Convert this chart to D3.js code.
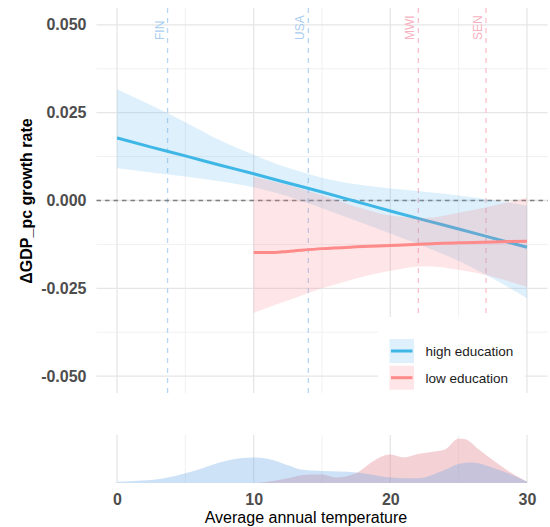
<!DOCTYPE html>
<html>
<head>
<meta charset="utf-8">
<script src="https://cdn.jsdelivr.net/npm/d3@7"></script>
<style>
  html, body { margin: 0; padding: 0; background: #ffffff; }
  svg { display: block; font-family: "Liberation Sans", Arial, Helvetica, sans-serif; }
</style>
</head>
<body>
<svg id="chart" width="550" height="527"></svg>
<script>
// Fitted marginal effect of temperature, high-education group
const tempHigh  = [0, 2.5, 5, 7.5, 10, 12.5, 15, 17.5, 20, 22.5, 25, 27.5, 30];
const fitHigh   = [0.0178, 0.0152, 0.0127, 0.0101, 0.0076, 0.0050, 0.0024, -0.0003, -0.0030, -0.0056, -0.0081, -0.0107, -0.0133];
const upperHigh = [0.0317, 0.0271, 0.0223, 0.0172, 0.0130, 0.0093, 0.0065, 0.0046, 0.0034, 0.0025, 0.0014, 0.0001, -0.0014];
const lowerHigh = [0.0092, 0.0080, 0.0068, 0.0055, 0.0038, 0.0012, -0.0022, -0.0058, -0.0094, -0.0131, -0.0172, -0.0222, -0.0278];

// Fitted marginal effect of temperature, low-education group
const tempLow  = [10, 11.5, 12.5, 15, 17.5, 20, 22.5, 25, 27.5, 30];
const fitLow   = [-0.0148, -0.0148, -0.0145, -0.0137, -0.0132, -0.0128, -0.0124, -0.0120, -0.0118, -0.0116];
const upperLow = [0.0068, 0.0054, 0.0044, 0.0015, -0.0018, -0.0043, -0.0050, -0.0035, -0.0015, 0.0008];
const lowerLow = [-0.0320, -0.0298, -0.0285, -0.0250, -0.0222, -0.0200, -0.0187, -0.0197, -0.0217, -0.0246];

// Temperature distribution of country-years in each group
const densTempHigh = [0, 1.25, 2.5, 3.75, 5, 6.25, 7.5, 9, 10, 11, 12.5, 13.6, 15, 17.5, 20, 22, 24, 25, 26, 27.5, 30];
const densHigh     = [0.003, 0.005, 0.007, 0.013, 0.023, 0.035, 0.048, 0.058, 0.060, 0.057, 0.042, 0.031, 0.028, 0.025, 0.013, 0.011, 0.031, 0.045, 0.048, 0.036, 0.003];
const densTempLow  = [10, 11, 12.5, 13.6, 15, 16, 17.5, 18.5, 19.5, 20, 21, 22, 23, 24, 25, 25.5, 26.5, 27.5, 28.5, 30];
const densLow      = [0.000, 0.003, 0.011, 0.019, 0.020, 0.013, 0.023, 0.046, 0.064, 0.067, 0.060, 0.068, 0.073, 0.079, 0.105, 0.103, 0.078, 0.054, 0.031, 0.003];

// Reference countries and their average temperatures
const countries    = ["FIN", "USA", "MWI", "SEN"];
const countryTemp  = [3.7, 14.0, 22.05, 27.0];
const countryGroup = ["high", "high", "low", "low"];

// Axis ticks and legend labels
const yTicks      = [-0.05, -0.025, 0, 0.025, 0.05];
const yMinorTicks = [-0.0375, -0.0125, 0.0125, 0.0375];
const xTicks      = [0, 10, 20, 30];
const xMinorTicks = [5, 15, 25];
const groupLabels = ["high education", "low education"];

const colors = {
  highLine: "#3fb7e6", highFill: "#56b4e9",
  lowLine: "#ff8a8a",  lowFill: "#f87c86",
  highDens: "#6fa8e8", lowDens: "#e38b95",
  highMark: "#b6d5f4", lowMark: "#f9c0cc",
  highMarkText: "#a9cdf0", lowMarkText: "#f7b3c1"
};

const svg = d3.select("#chart");

const panel = { left: 96.5, right: 547.5, top: 8, bottom: 393 };
const dpanel = { top: 435, bottom: 483 };

const x = d3.scaleLinear().domain([-1.5, 31.5]).range([panel.left, panel.right]);
const y = d3.scaleLinear().domain([-0.0548, 0.0548]).range([panel.bottom, panel.top]);
const yd = d3.scaleLinear().domain([0, 0.113]).range([dpanel.bottom, dpanel.top]);

const zip = (xs, ...cols) => xs.map((t, i) => ({ t, v: cols.map(c => c[i]) }));

// ---- grid: main panel ----
const grid = svg.append("g");
grid.selectAll(".ymin").data(yMinorTicks).join("line")
  .attr("x1", panel.left).attr("x2", panel.right)
  .attr("y1", d => y(d)).attr("y2", d => y(d))
  .attr("stroke", "#efefef").attr("stroke-width", 0.9);
grid.selectAll(".xmin").data(xMinorTicks).join("line")
  .attr("x1", d => x(d)).attr("x2", d => x(d))
  .attr("y1", panel.top).attr("y2", panel.bottom)
  .attr("stroke", "#efefef").attr("stroke-width", 0.9);
grid.selectAll(".ymaj").data(yTicks).join("line")
  .attr("x1", panel.left).attr("x2", panel.right)
  .attr("y1", d => y(d)).attr("y2", d => y(d))
  .attr("stroke", "#e6e6e6").attr("stroke-width", 1.3);
grid.selectAll(".xmaj").data(xTicks).join("line")
  .attr("x1", d => x(d)).attr("x2", d => x(d))
  .attr("y1", panel.top).attr("y2", panel.bottom)
  .attr("stroke", "#e6e6e6").attr("stroke-width", 1.3);

// ---- grid: density panel ----
const dgrid = svg.append("g");
dgrid.selectAll(".xmin").data(xMinorTicks).join("line")
  .attr("x1", d => x(d)).attr("x2", d => x(d))
  .attr("y1", dpanel.top).attr("y2", dpanel.bottom)
  .attr("stroke", "#efefef").attr("stroke-width", 0.9);
dgrid.selectAll(".xmaj").data(xTicks).join("line")
  .attr("x1", d => x(d)).attr("x2", d => x(d))
  .attr("y1", dpanel.top).attr("y2", dpanel.bottom)
  .attr("stroke", "#e6e6e6").attr("stroke-width", 1.3);

// ---- country reference lines ----
const marks = svg.append("g");
countries.forEach((c, i) => {
  const cx = x(countryTemp[i]);
  const isHigh = countryGroup[i] === "high";
  marks.append("line")
    .attr("x1", cx).attr("x2", cx)
    .attr("y1", panel.top).attr("y2", panel.bottom)
    .attr("stroke", isHigh ? colors.highMark : colors.lowMark)
    .attr("stroke-width", 1.3)
    .attr("stroke-dasharray", "5,5");
  marks.append("text")
    .attr("transform", `translate(${cx - 4},40) rotate(-90)`)
    .attr("text-anchor", "start")
    .attr("font-size", 12)
    .attr("fill", isHigh ? colors.highMarkText : colors.lowMarkText)
    .text(c);
});

// ---- zero reference ----
svg.append("line")
  .attr("x1", panel.left).attr("x2", panel.right)
  .attr("y1", y(0)).attr("y2", y(0))
  .attr("stroke", "#808080").attr("stroke-width", 1.3)
  .attr("stroke-dasharray", "4.5,4");

// ---- fitted curves with confidence bands ----
const band = d3.area().curve(d3.curveMonotoneX)
  .x(d => x(d.t)).y0(d => y(d.v[2])).y1(d => y(d.v[1]));
const fit = d3.line().curve(d3.curveMonotoneX)
  .x(d => x(d.t)).y(d => y(d.v[0]));

const highData = zip(tempHigh, fitHigh, upperHigh, lowerHigh);
const lowData = zip(tempLow, fitLow, upperLow, lowerLow);

const fits = svg.append("g");
fits.append("path").datum(highData).attr("d", band)
  .attr("fill", colors.highFill).attr("fill-opacity", 0.2);
fits.append("path").datum(highData).attr("d", fit)
  .attr("fill", "none").attr("stroke", colors.highLine).attr("stroke-width", 3);
fits.append("path").datum(lowData).attr("d", band)
  .attr("fill", colors.lowFill).attr("fill-opacity", 0.2);
fits.append("path").datum(lowData).attr("d", fit)
  .attr("fill", "none").attr("stroke", colors.lowLine).attr("stroke-width", 3);

// ---- density strip ----
const dens = d3.area().curve(d3.curveMonotoneX)
  .x(d => x(d.t)).y0(yd(0)).y1(d => yd(d.v[0]));
svg.append("path").datum(zip(densTempLow, densLow)).attr("d", dens)
  .attr("fill", colors.lowDens).attr("fill-opacity", 0.4);
svg.append("path").datum(zip(densTempHigh, densHigh)).attr("d", dens)
  .attr("fill", colors.highDens).attr("fill-opacity", 0.35);

// ---- axes ----
const yAxis = svg.append("g")
  .attr("transform", `translate(${panel.left},0)`)
  .call(d3.axisLeft(y).tickValues(yTicks).tickSize(0).tickPadding(10)
    .tickFormat(d => d.toFixed(3)));
yAxis.select(".domain").remove();
yAxis.selectAll("text")
  .attr("font-size", 16).attr("font-weight", "bold")
  .attr("font-family", "'Liberation Sans', Arial, sans-serif")
  .attr("fill", "#4d4d4d");

const xAxis = svg.append("g")
  .attr("transform", `translate(0,${dpanel.bottom})`)
  .call(d3.axisBottom(x).tickValues(xTicks).tickSize(0).tickPadding(10.5));
xAxis.select(".domain").remove();
xAxis.selectAll("text")
  .attr("font-size", 16).attr("font-weight", "bold")
  .attr("font-family", "'Liberation Sans', Arial, sans-serif")
  .attr("fill", "#4d4d4d");

svg.append("text")
  .attr("x", 306).attr("y", 523)
  .attr("text-anchor", "middle")
  .attr("font-size", 16)
  .attr("fill", "#000")
  .text("Average annual temperature");

svg.append("text")
  .attr("transform", `translate(32,201) rotate(-90)`)
  .attr("text-anchor", "middle")
  .attr("font-size", 16)
  .attr("font-weight", "bold")
  .attr("fill", "#000")
  .text("ΔGDP_pc growth rate");

// ---- legend ----
const legend = svg.append("g");
legend.append("rect")
  .attr("x", 378).attr("y", 317).attr("width", 147).attr("height", 80)
  .attr("fill", "#ffffff");
const keyFill = [colors.highFill, colors.lowFill];
const keyLine = [colors.highLine, colors.lowLine];
groupLabels.forEach((lab, i) => {
  const ky = 339 + i * 26.7;
  legend.append("rect")
    .attr("x", 389.5).attr("y", ky).attr("width", 24.5).attr("height", 24)
    .attr("fill", keyFill[i]).attr("fill-opacity", 0.2);
  legend.append("line")
    .attr("x1", 391).attr("x2", 412.5)
    .attr("y1", ky + 12).attr("y2", ky + 12)
    .attr("stroke", keyLine[i]).attr("stroke-width", 3);
  legend.append("text")
    .attr("x", 425.5).attr("y", ky + 17)
    .attr("font-size", 13.5)
    .attr("fill", "#1a1a1a")
    .text(lab);
});
</script>
</body>
</html>
